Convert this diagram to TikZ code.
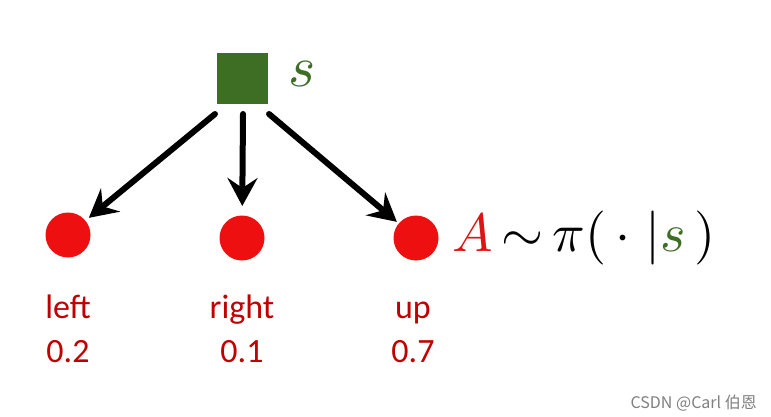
\documentclass[tikz,border=0pt]{standalone}
\usepackage{fontspec}
\DeclareFontShape{OML}{cmm}{m}{it}{<->cmmi10}{}
\DeclareFontShape{OMS}{cmsy}{m}{n}{<->cmsy10}{}
\DeclareFontShape{OT1}{cmr}{m}{n}{<->cmr10}{}
\usetikzlibrary{arrows.meta}
\newfontfamily\labelfont{Carlito}
\newfontfamily\cjkfont{Noto Sans CJK SC}
\definecolor{sgreen}{RGB}{62,110,36}
\definecolor{dotred}{RGB}{238,16,16}
\definecolor{lblred}{RGB}{192,0,0}
\definecolor{formred}{RGB}{220,20,20}
\tikzset{
  dot/.style={circle,fill=dotred,minimum size=45pt,inner sep=0pt},
  arr/.style={line width=6pt,line cap=round,-{Stealth[length=28pt,width=30pt,inset=10pt]},black},
  lbl/.style={font=\labelfont\fontsize{34}{34}\selectfont,text=lblred,anchor=base,inner sep=0pt},
}
\begin{document}
\begin{tikzpicture}[x=1pt,y=-1pt]
\useasboundingbox[fill=white] (0,0) rectangle (771,417);
\node[fill=sgreen,minimum size=51pt,inner sep=0pt] (s) at (242,79) {};
\node[anchor=west,inner sep=0pt,text=sgreen,font=\fontsize{58}{60}\selectfont] (slab) at (288,74) {$s$};
\node[dot] (l) at (68,235) {};
\node[dot] (m) at (242,238) {};
\node[dot] (r) at (416,238) {};
\coordinate (sbl) at (215,114);
\coordinate (sbm) at (243,114);
\coordinate (sbr) at (269,114);
\draw[arr,shorten >=27pt] (sbl) -- (l.center);
\draw[arr,shorten >=32pt] (sbm) -- (m.center);
\draw[arr,shorten >=25pt] (sbr) -- (r.center);
\node[anchor=west,inner sep=0pt,font=\fontsize{54}{60}\selectfont] (pol) at (452,238) {$\color{formred}A\color{black}\,{\sim}\,\pi(\,\cdot\;|{\color{sgreen}s}\,)$};
\node[lbl] (t1) at (68,318) {left};
\node[lbl] (t2) at (242,318) {right};
\node[lbl] (t3) at (413,318) {up};
\node[lbl] (n1) at (68,362) {0.2};
\node[lbl] (n2) at (242,362) {0.1};
\node[lbl] (n3) at (413,362) {0.7};
\node[anchor=base east,inner sep=0pt,text=gray,font=\cjkfont\fontsize{16}{16}\selectfont] (wm) at (757,408) {CSDN @Carl 伯恩};
\end{tikzpicture}
\end{document}
